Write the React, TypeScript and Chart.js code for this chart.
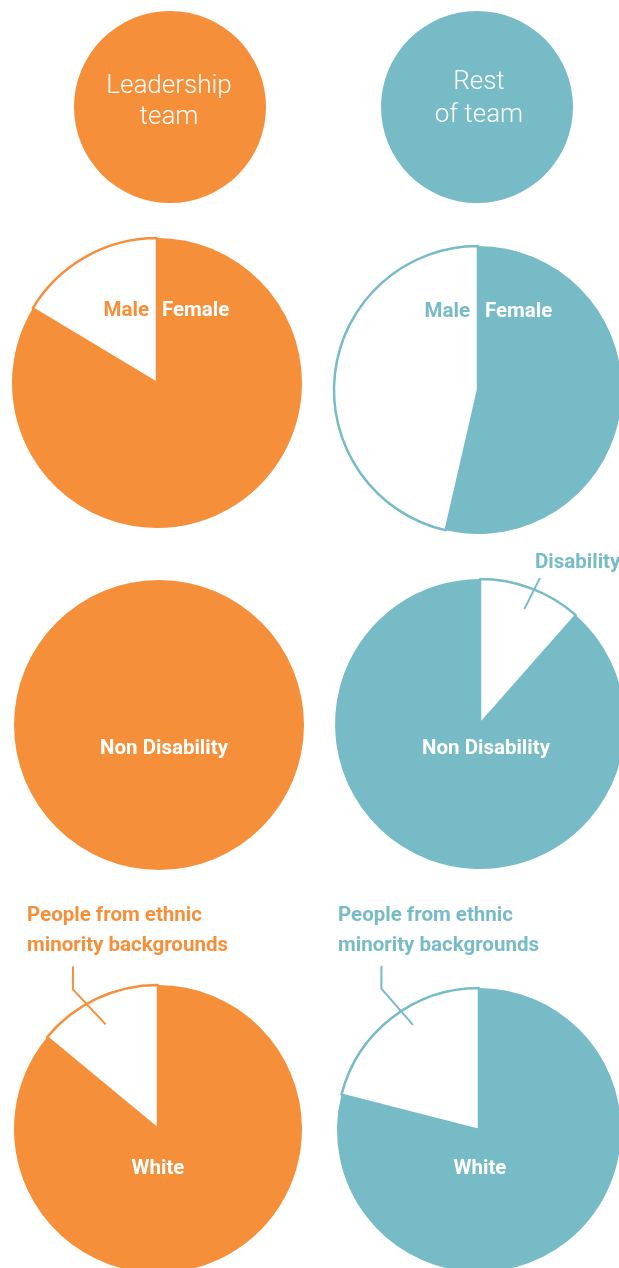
import React, { useEffect, useRef } from "react";
import { Chart, registerables } from "chart.js";
Chart.register(...registerables);

const ORANGE = "#F68F3A";
const TEAL = "#77BBC7";
const WHITE = "#FFFFFF";

const groupTitles = ["Leadership\nteam", "Rest\nof team"];
const headerValues = [1];
const genderLabels = ["Female", "Male"];
const leadershipGender = [83.6, 16.4];
const restGender = [53.6, 46.4];
const disabilityLabels = ["Disability", "Non Disability"];
const leadershipDisability = [0, 100];
const restDisability = [11.5, 88.5];
const ethnicityLabels = ["White", "People from ethnic\nminority backgrounds"];
const leadershipEthnicity = [86, 14];
const restEthnicity = [79, 21];

const FONT = "Roboto, 'Noto Sans', sans-serif";
const PAD = 60;
const BOLD_SIZE = 20.5;

const leaderPlugin = {
  id: "leader",
  afterDatasetsDraw(chart: any, _args: any, opts: any) {
    if (!opts || !opts.line) return;
    const cfg = opts.line;
    const arc: any = chart.getDatasetMeta(0).data[cfg.index];
    if (!arc) return;
    const { x, y, outerRadius, startAngle, endAngle } = arc.getProps(
      ["x", "y", "outerRadius", "startAngle", "endAngle"],
      true
    );
    const a = startAngle + cfg.frac * (endAngle - startAngle);
    const px = x + Math.cos(a) * outerRadius;
    const py = y + Math.sin(a) * outerRadius;
    const d = (cfg.dir * Math.PI) / 180;
    const ux = Math.cos(d);
    const uy = Math.sin(d);
    const ctx = chart.ctx;
    ctx.save();
    ctx.strokeStyle = cfg.color;
    ctx.lineWidth = 2;
    ctx.lineJoin = "miter";
    ctx.beginPath();
    ctx.moveTo(px - ux * cfg.inner, py - uy * cfg.inner);
    const ox = px + ux * cfg.outer;
    const oy = py + uy * cfg.outer;
    ctx.lineTo(ox, oy);
    if (cfg.tail) ctx.lineTo(ox, oy - cfg.tail);
    ctx.stroke();
    ctx.restore();
  },
};

type PieProps = {
  cx: number;
  cy: number;
  r: number;
  labels: string[];
  values: number[];
  fills: string[];
  borderColor: string;
  borderWidths: number[];
  leader?: any;
};

function Pie({ cx, cy, r, labels, values, fills, borderColor, borderWidths, leader }: PieProps) {
  const ref = useRef<HTMLCanvasElement | null>(null);
  useEffect(() => {
    if (!ref.current) return;
    const chart = new Chart(ref.current, {
      type: "pie",
      data: {
        labels,
        datasets: [
          {
            data: values,
            backgroundColor: fills,
            borderColor: borderColor,
            borderWidth: borderWidths,
            hoverOffset: 0,
            radius: r,
          } as any,
        ],
      },
      options: {
        responsive: true,
        maintainAspectRatio: false,
        animation: false,
        events: [],
        layout: { padding: 0 },
        plugins: {
          legend: { display: false },
          tooltip: { enabled: false },
          leader: leader ? { line: leader } : false,
        } as any,
      },
      plugins: [leaderPlugin as any],
    });
    return () => chart.destroy();
  }, []);
  const size = 2 * (r + PAD);
  return (
    <div
      style={{
        position: "absolute",
        left: cx - r - PAD,
        top: cy - r - PAD,
        width: size,
        height: size,
      }}
    >
      <canvas ref={ref} />
    </div>
  );
}

type LabelProps = {
  x: number;
  y: number;
  text: string;
  color: string;
  size: number;
  weight: number;
  align: "center" | "left" | "right";
  lineHeight?: number;
};

function Label({ x, y, text, color, size, weight, align, lineHeight }: LabelProps) {
  const tx = align === "center" ? "-50%" : align === "right" ? "-100%" : "0";
  return (
    <div
      style={{
        position: "absolute",
        left: x,
        top: y,
        transform: `translate(${tx}, -50%)`,
        color,
        fontFamily: FONT,
        fontSize: size,
        fontWeight: weight,
        lineHeight: lineHeight ? `${lineHeight}px` : "1.15",
        whiteSpace: "pre",
        textAlign: align,
      }}
    >
      {text}
    </div>
  );
}

export default function App() {
  return (
    <div
      style={{
        position: "absolute",
        left: 0,
        top: 0,
        width: 619,
        height: 1268,
        overflow: "hidden",
        background: "#FFFFFF",
      }}
    >
      {/* header circles */}
      <Pie cx={170} cy={107} r={96} labels={[groupTitles[0]]} values={headerValues} fills={[ORANGE]} borderColor={ORANGE} borderWidths={[0]} />
      <Pie cx={477} cy={107} r={96} labels={[groupTitles[1]]} values={headerValues} fills={[TEAL]} borderColor={TEAL} borderWidths={[0]} />

      {/* gender */}
      <Pie cx={157} cy={383} r={145} labels={genderLabels} values={leadershipGender} fills={[ORANGE, WHITE]} borderColor={ORANGE} borderWidths={[0, 2.5]} />
      <Pie cx={478} cy={390} r={144} labels={genderLabels} values={restGender} fills={[TEAL, WHITE]} borderColor={TEAL} borderWidths={[0, 2.5]} />

      {/* disability */}
      <Pie cx={159} cy={725} r={145} labels={disabilityLabels} values={leadershipDisability} fills={[WHITE, ORANGE]} borderColor={ORANGE} borderWidths={[0, 0]} />
      <Pie
        cx={480}
        cy={724}
        r={145}
        labels={disabilityLabels}
        values={restDisability}
        fills={[WHITE, TEAL]}
        borderColor={TEAL}
        borderWidths={[2.5, 0]}
        leader={{ index: 0, frac: 0.53, dir: -63.4, inner: 22, outer: 13, tail: 0, color: TEAL }}
      />

      {/* ethnicity */}
      <Pie
        cx={158}
        cy={1129}
        r={144}
        labels={ethnicityLabels}
        values={leadershipEthnicity}
        fills={[ORANGE, WHITE]}
        borderColor={ORANGE}
        borderWidths={[0, 2.5]}
        leader={{ index: 1, frac: 0.41, dir: -133, inner: 28, outer: 20, tail: 23, color: ORANGE }}
      />
      <Pie
        cx={479}
        cy={1130}
        r={142}
        labels={ethnicityLabels}
        values={restEthnicity}
        fills={[TEAL, WHITE]}
        borderColor={TEAL}
        borderWidths={[0, 2.5]}
        leader={{ index: 1, frac: 0.56, dir: -131, inner: 18, outer: 30, tail: 23, color: TEAL }}
      />

      {/* text */}
      <Label x={169} y={100} text={groupTitles[0]} color={WHITE} size={26} weight={300} align="center" lineHeight={31} />
      <Label x={479} y={97} text={groupTitles[1]} color={WHITE} size={26} weight={300} align="center" lineHeight={33} />

      <Label x={149} y={310} text={genderLabels[1]} color={ORANGE} size={BOLD_SIZE} weight={700} align="right" />
      <Label x={162} y={310} text={genderLabels[0]} color={WHITE} size={BOLD_SIZE} weight={700} align="left" />
      <Label x={470} y={311} text={genderLabels[1]} color={TEAL} size={BOLD_SIZE} weight={700} align="right" />
      <Label x={485} y={311} text={genderLabels[0]} color={WHITE} size={BOLD_SIZE} weight={700} align="left" />

      <Label x={164} y={748} text={disabilityLabels[1]} color={WHITE} size={BOLD_SIZE} weight={700} align="center" />
      <Label x={486} y={748} text={disabilityLabels[1]} color={WHITE} size={BOLD_SIZE} weight={700} align="center" />
      <Label x={535} y={562} text={disabilityLabels[0]} color={TEAL} size={BOLD_SIZE} weight={700} align="left" />

      <Label x={27} y={929} text={ethnicityLabels[1]} color={ORANGE} size={BOLD_SIZE} weight={700} align="left" lineHeight={30} />
      <Label x={338} y={929} text={ethnicityLabels[1]} color={TEAL} size={BOLD_SIZE} weight={700} align="left" lineHeight={30} />
      <Label x={158} y={1168} text={ethnicityLabels[0]} color={WHITE} size={BOLD_SIZE} weight={700} align="center" />
      <Label x={480} y={1168} text={ethnicityLabels[0]} color={WHITE} size={BOLD_SIZE} weight={700} align="center" />
    </div>
  );
}
